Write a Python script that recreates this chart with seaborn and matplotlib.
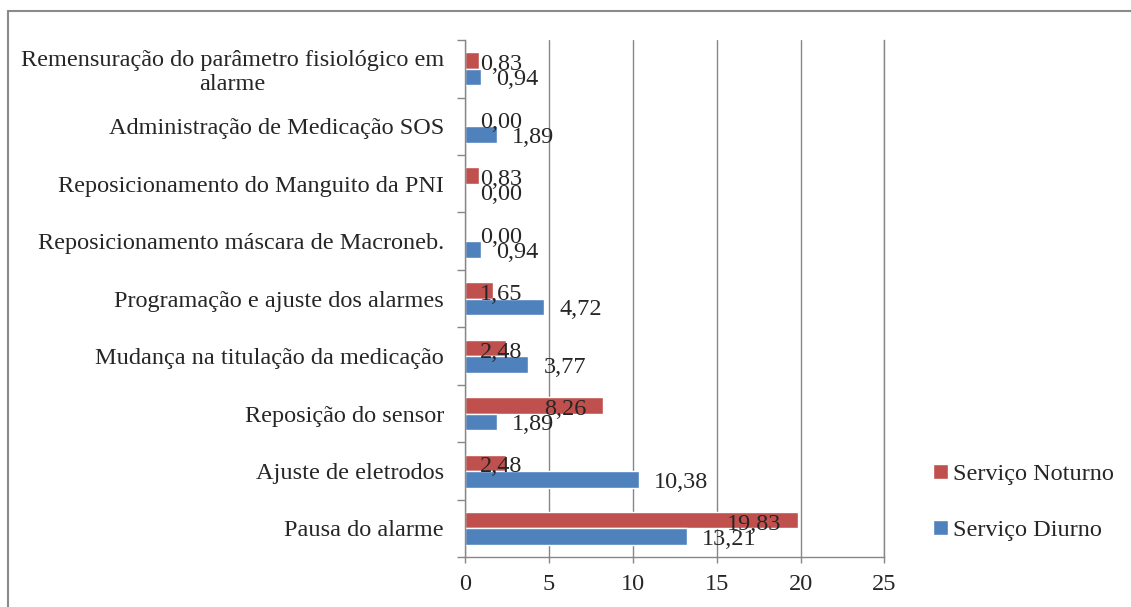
import matplotlib
matplotlib.use("Agg")
import matplotlib.pyplot as plt
import seaborn as sns
import pandas as pd
from matplotlib.lines import Line2D

categorias = [
    "Remensuração do parâmetro fisiológico em\nalarme",
    "Administração de Medicação SOS",
    "Reposicionamento do Manguito da PNI",
    "Reposicionamento máscara de Macroneb.",
    "Programação e ajuste dos alarmes",
    "Mudança na titulação da medicação",
    "Reposição do sensor",
    "Ajuste de eletrodos",
    "Pausa do alarme",
]
noturno = [0.83, 0.00, 0.83, 0.00, 1.65, 2.48, 8.26, 2.48, 19.83]
diurno = [0.94, 1.89, 0.00, 0.94, 4.72, 3.77, 1.89, 10.38, 13.21]
series = ["Serviço Noturno", "Serviço Diurno"]
cores = ["#C0504D", "#4F81BD"]
x_ticks = [0, 5, 10, 15, 20, 25]

df = pd.DataFrame({
    "categoria": categorias * 2,
    "valor": noturno + diurno,
    "serie": [series[0]] * len(categorias) + [series[1]] * len(categorias),
})

sns.set_style("white")
plt.rcParams["font.family"] = ["Liberation Serif", "DejaVu Serif"]

fig = plt.figure(figsize=(11.31, 6.07), dpi=100)
ax = fig.add_axes([0.411, 0.082, 0.371, 0.852])

sns.barplot(data=df, x="valor", y="categoria", hue="serie", order=categorias,
            hue_order=series, palette=cores, width=0.575, orient="h",
            saturation=1, ax=ax, legend=True)

# rótulos de dados
fonte = 17.5
for cont, vals, nome in zip(ax.containers, [noturno, diurno], series):
    for barra, v in zip(cont.patches, vals):
        yc = barra.get_y() + barra.get_height() / 2
        txt = f"{v:.2f}".replace(".", ",")
        if nome == series[1]:
            ax.annotate(txt, (v, yc), xytext=(11, -2), textcoords="offset points",
                        ha="left", va="center", fontsize=fonte)
        elif v < 4.5:
            ax.annotate(txt, (0, yc), xytext=(11, -3), textcoords="offset points",
                        ha="left", va="center", fontsize=fonte)
        else:
            ax.annotate(txt, (v, yc), xytext=(-12, -3), textcoords="offset points",
                        ha="right", va="center", fontsize=fonte)

ax.set_xlim(0, 25)
ax.set_ylim(len(categorias) - 0.5, -0.5)
ax.set_xticks(x_ticks)
ax.set_xticklabels([str(t) for t in x_ticks], fontsize=fonte)
ax.set_yticks(range(len(categorias)))
ax.set_yticklabels(categorias, fontsize=fonte, multialignment="center")
ax.set_yticks([i - 0.5 for i in range(len(categorias) + 1)], minor=True)
ax.tick_params(axis="y", which="major", length=0, pad=15)
ax.tick_params(axis="y", which="minor", length=6, width=1, color="#878787", direction="out", left=True)
ax.tick_params(axis="x", length=4, width=1, color="#878787", direction="out", bottom=True, pad=8)
ax.set_xlabel("")
ax.set_ylabel("")

ax.grid(axis="x", color="#878787", linewidth=1.0)
ax.set_axisbelow(True)
for lado in ["left", "bottom", "right"]:
    ax.spines[lado].set_color("#878787")
    ax.spines[lado].set_linewidth(1.0)
ax.spines["top"].set_visible(False)

leg = ax.legend(loc="center left", bbox_to_anchor=(1.064, 0.106), frameon=False,
                fontsize=fonte, handlelength=0.6, handleheight=0.6,
                handletextpad=0.2, labelspacing=1.45)

# moldura do gráfico (só topo e esquerda visíveis)
fig.add_artist(Line2D([8 / 1131, 1.0], [1 - 11 / 607, 1 - 11 / 607], color="#8a8a8a", lw=1.5))
fig.add_artist(Line2D([8 / 1131, 8 / 1131], [0, 1 - 11 / 607], color="#8a8a8a", lw=1.5))

fig.savefig("out.png", dpi=100)
plt.close(fig)
